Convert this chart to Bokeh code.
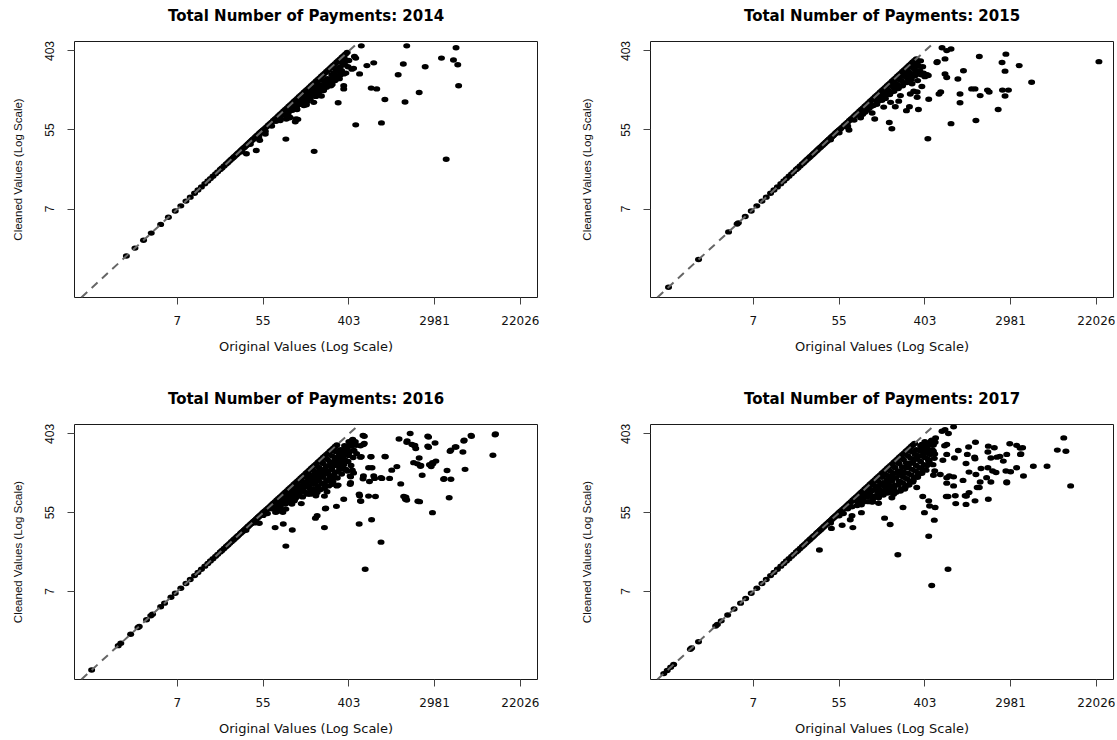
import math
from bokeh.plotting import figure
from bokeh.layouts import row, column
from bokeh.models import Range1d, FixedTicker, Slope, LinearAxis
from bokeh.embed import file_html
from bokeh.resources import INLINE

# ---------------- data (natural-log values, as plotted) ----------------
x_tick_pos = [2, 4, 6, 8, 10]
x_tick_labels = ["7", "55", "403", "2981", "22026"]
y_tick_pos = [2, 4, 6]
y_tick_labels = ["7", "55", "403"]

# points where cleaned == original (log scale), shared dense run
band_log = [1.95, 2.08, 2.2, 2.3, 2.4, 2.48, 2.56, 2.64, 2.71, 2.77, 2.83, 2.89, 2.94, 3.0,
            3.04, 3.09, 3.14, 3.18, 3.22, 3.26, 3.3, 3.33, 3.37, 3.4, 3.43, 3.47, 3.5, 3.53,
            3.56, 3.58, 3.61, 3.64, 3.66, 3.69, 3.71, 3.74, 3.76, 3.78, 3.81, 3.83, 3.85, 3.87,
            3.89, 3.91, 3.93, 3.95, 3.97, 3.99, 4.01, 4.04, 4.08, 4.12, 4.16, 4.2, 4.24, 4.28,
            4.32, 4.36, 4.4, 4.44, 4.48, 4.52, 4.56, 4.6, 4.64, 4.68, 4.72, 4.76, 4.8, 4.84,
            4.88, 4.92, 4.96, 5.0, 5.04, 5.08, 5.12, 5.16, 5.2, 5.24, 5.28, 5.32, 5.36, 5.4,
            5.44, 5.48, 5.52, 5.56, 5.6, 5.64, 5.68, 5.72, 5.76, 5.8, 5.84, 5.88, 5.92, 5.96]

diag_low_2014 = [0.81, 1.01, 1.21, 1.39, 1.61, 1.79]
diag_low_2015 = [0.02, 0.72, 1.42, 1.62, 1.65, 1.81]
diag_low_2016 = [0.0, 0.62, 0.68, 0.91, 1.08, 1.11, 1.28, 1.38, 1.42, 1.61, 1.7, 1.85]
diag_low_2017 = [-0.09, -0.01, 0.07, 0.14, 0.53, 0.56, 0.72, 1.12, 1.16, 1.25, 1.4, 1.55, 1.7, 1.82]
band_top = {"2014": 5.96, "2015": 5.8, "2016": 5.72, "2017": 5.76}

# (log original, log cleaned) for points where cleaning lowered the value
pairs_2014 = [
    (3.5, 3.45), (3.7, 3.64), (3.9, 3.83), (4.05, 3.97), (4.2, 4.1), (4.3, 4.22), (4.4, 4.3),
    (4.5, 4.38), (4.55, 4.45), (4.6, 4.47), (4.65, 4.55), (4.7, 4.52), (4.75, 4.62), (4.8, 4.65),
    (4.85, 4.72), (4.9, 4.7), (4.9, 4.78), (4.95, 4.8), (5.0, 4.82), (5.0, 4.88), (5.05, 4.9),
    (5.1, 4.85), (5.1, 4.96), (5.15, 5.0), (5.2, 4.95), (5.2, 5.07), (5.25, 5.08), (5.3, 5.0),
    (5.3, 5.15), (5.35, 5.12), (5.4, 5.05), (5.4, 5.25), (5.45, 5.2), (5.5, 5.15), (5.5, 5.3),
    (5.55, 5.25), (5.6, 5.4), (5.6, 5.2), (5.65, 5.45), (5.7, 5.35), (5.7, 5.55), (5.75, 5.5),
    (5.8, 5.6), (5.8, 5.4), (5.85, 5.7), (5.9, 5.65), (5.9, 5.8), (5.95, 5.75),
    (5.88, 5.67), (6.0, 5.76), (5.72, 5.5), (5.61, 5.29), (5.49, 5.17), (5.41, 5.0), (5.29, 4.91),
    (5.1, 4.79), (4.95, 4.62), (4.63, 4.32),
    (4.58, 4.4), (4.68, 4.5), (4.78, 4.58), (4.88, 4.65), (4.98, 4.75), (5.08, 4.8), (5.18, 4.9),
    (5.28, 4.95), (5.38, 5.0), (5.48, 5.08), (5.58, 5.12), (5.68, 5.25), (5.78, 5.3), (5.88, 5.42),
    (5.98, 5.6), (5.03, 4.72), (5.23, 4.85), (5.43, 5.1), (5.63, 5.3), (5.83, 5.5),
    (6.29, 6.13), (7.35, 6.13), (8.5, 6.08), (8.16, 5.82), (8.44, 5.77), (8.54, 5.65), (8.56, 5.12),
    (8.27, 3.26), (7.78, 5.6), (7.64, 4.95), (7.27, 5.67), (7.15, 5.4), (7.31, 4.71), (6.84, 4.77),
    (6.76, 4.18), (6.58, 5.7), (6.42, 5.63), (6.52, 5.06), (6.65, 5.04), (6.25, 5.42), (6.16, 4.13),
    (5.75, 4.69), (5.88, 5.12), (5.88, 5.04), (5.93, 5.44), (6.13, 5.86), (6.16, 5.82), (6.11, 5.56),
    (6.07, 5.54), (5.78, 5.38), (5.61, 5.15), (5.36, 4.86), (5.19, 3.46), (5.18, 4.7), (5.01, 4.64),
    (4.79, 4.52), (4.77, 4.28), (4.53, 3.77), (4.54, 4.28), (4.62, 4.31), (4.05, 3.9), (3.92, 3.74),
    (3.84, 3.48), (3.61, 3.4), (4.4, 4.24), (4.75, 4.21), (4.81, 4.27),
]

pairs_2015 = [
    (3.8, 3.75), (4.0, 3.93), (4.2, 4.1), (4.35, 4.25), (4.5, 4.38), (4.6, 4.45), (4.7, 4.55),
    (4.8, 4.62), (4.85, 4.75), (4.9, 4.72), (5.0, 4.85), (5.0, 4.75), (5.05, 4.95), (5.1, 4.9),
    (5.15, 5.0), (5.2, 4.95), (5.25, 5.1), (5.3, 5.05), (5.3, 5.2), (5.35, 5.15), (5.4, 5.3),
    (5.4, 5.1), (5.45, 5.25), (5.5, 5.4), (5.5, 5.2), (5.55, 5.35), (5.6, 5.5), (5.6, 5.3),
    (5.65, 5.45), (5.7, 5.6), (5.7, 5.35), (5.75, 5.55), (5.8, 5.7), (5.8, 5.5), (5.85, 5.62),
    (5.9, 5.75), (5.95, 5.6),
    (4.55, 4.4), (4.65, 4.5), (4.75, 4.6), (4.88, 4.65), (4.98, 4.8), (5.08, 4.8), (5.18, 4.9),
    (5.28, 4.98), (5.38, 5.05), (5.48, 5.12), (5.58, 5.2), (5.68, 5.28), (5.78, 5.38), (5.88, 5.5),
    (5.92, 5.4), (5.62, 5.42), (5.42, 5.35), (5.22, 5.15),
    (6.4, 6.08), (6.51, 6.01), (6.61, 6.05), (6.28, 5.71), (6.47, 5.8), (7.27, 5.86), (7.89, 5.92),
    (7.8, 5.71), (8.2, 5.63), (7.87, 5.49), (8.49, 5.21), (6.9, 5.5), (6.77, 5.29), (6.51, 5.33),
    (6.05, 5.4), (5.97, 5.44), (6.0, 5.35), (5.93, 5.1), (5.66, 4.91), (5.7, 5.17), (5.83, 5.25),
    (5.58, 5.34), (6.33, 4.91), (6.37, 4.96), (6.82, 4.91), (7.09, 5.04), (7.17, 5.04), (7.29, 4.87),
    (7.46, 5.01), (7.5, 4.96), (7.81, 5.01), (7.95, 5.01), (7.87, 4.86), (7.71, 4.52), (7.19, 4.24),
    (6.61, 4.16), (6.82, 4.69), (6.09, 4.78), (5.85, 4.52), (5.64, 4.59), (5.57, 4.49), (6.07, 3.78),
    (5.23, 4.03), (5.17, 4.19), (5.39, 4.73), (5.04, 4.58), (4.83, 4.28), (4.77, 4.43), (4.5, 4.31),
    (4.23, 4.0), (4.2, 4.07), (5.2, 4.7), (5.31, 4.59), (5.43, 4.87), (5.82, 4.83), (5.74, 4.98),
    (5.82, 4.96), (6.47, 5.42), (10.06, 5.73), (5.72, 5.71), (5.82, 5.67), (5.8, 5.45), (6.01, 5.4),
    (6.08, 5.38), (6.29, 5.73),
]

pairs_2016 = [
    (3.6, 3.55), (3.8, 3.74), (4.0, 3.93), (4.1, 3.98), (4.2, 4.1), (4.3, 4.15), (4.35, 4.25),
    (4.4, 4.28), (4.45, 4.3), (4.5, 4.4), (4.55, 4.35), (4.6, 4.5), (4.6, 4.4), (4.65, 4.45),
    (4.7, 4.6), (4.7, 4.45), (4.75, 4.55), (4.8, 4.7), (4.8, 4.5), (4.85, 4.6), (4.9, 4.8),
    (4.9, 4.55), (4.95, 4.7), (5.0, 4.9), (5.0, 4.65), (5.05, 4.8), (5.1, 4.95), (5.1, 4.6),
    (5.15, 4.85), (5.2, 5.05), (5.2, 4.75), (5.25, 4.9), (5.3, 5.15), (5.3, 4.8), (5.35, 5.0),
    (5.4, 5.25), (5.4, 4.9), (5.45, 5.1), (5.45, 4.7), (5.5, 5.35), (5.5, 5.0), (5.55, 5.2),
    (5.55, 4.85), (5.6, 5.45), (5.6, 5.1), (5.65, 5.3), (5.65, 4.95), (5.7, 5.55), (5.7, 5.2),
    (5.75, 5.4), (5.75, 5.05), (5.8, 5.6), (5.8, 5.3), (5.85, 5.5), (5.9, 5.7), (5.9, 5.35),
    (5.95, 5.6), (6.0, 5.8), (6.0, 5.45),
    (4.42, 4.2), (4.48, 4.33), (4.52, 4.22), (4.58, 4.3), (4.62, 4.38), (4.68, 4.3), (4.72, 4.52),
    (4.78, 4.4), (4.82, 4.6), (4.84, 4.45), (4.88, 4.68), (4.92, 4.4), (4.93, 4.62), (4.97, 4.52),
    (5.02, 4.78), (5.03, 4.5), (5.07, 4.68), (5.12, 4.85), (5.13, 4.52), (5.17, 4.72), (5.18, 4.95),
    (5.22, 4.6), (5.23, 4.82), (5.27, 5.02), (5.28, 4.68), (5.32, 4.9), (5.33, 4.58), (5.37, 5.08),
    (5.38, 4.75), (5.42, 4.98), (5.43, 4.62), (5.47, 5.18), (5.48, 4.82), (5.52, 5.05), (5.53, 4.68),
    (5.57, 5.28), (5.58, 4.92), (5.62, 5.18), (5.63, 4.78), (5.67, 5.4), (5.68, 5.02), (5.72, 5.3),
    (5.73, 4.88), (5.77, 5.5), (5.78, 5.15), (5.82, 5.4), (5.83, 4.98), (5.87, 5.6), (5.88, 5.22),
    (5.92, 5.48), (5.93, 5.1), (5.97, 5.68), (5.98, 5.3), (6.02, 5.55), (6.05, 5.2), (6.07, 5.7),
    (6.1, 5.4), (6.12, 5.58), (6.15, 5.8), (6.18, 5.5),
    (6.09, 5.86), (6.09, 5.81), (6.33, 5.96), (6.34, 5.73), (6.27, 5.7), (6.03, 5.69), (5.96, 5.6),
    (6.29, 5.42), (6.52, 5.42), (6.84, 5.43), (6.46, 5.14), (6.33, 4.86), (6.34, 4.93), (6.58, 4.93),
    (6.75, 4.89), (6.95, 4.87), (6.48, 4.79), (7.0, 5.08), (7.12, 5.17), (7.21, 4.73), (7.17, 5.87),
    (7.43, 6.01), (7.35, 5.79), (7.47, 5.73), (7.53, 5.7), (7.84, 5.94), (8.01, 5.77), (7.84, 5.69),
    (7.64, 5.39), (7.51, 5.27), (7.6, 5.24), (7.68, 5.2), (7.88, 5.22), (7.95, 5.27), (8.03, 5.31),
    (7.71, 4.95), (8.29, 5.07), (8.22, 4.86), (8.38, 4.85), (8.34, 4.38), (7.95, 4.0), (7.61, 4.29),
    (7.32, 4.34), (7.28, 4.41), (8.38, 5.59), (8.48, 5.67), (8.66, 5.54), (8.69, 5.84), (8.85, 5.96),
    (8.71, 5.1), (9.41, 5.98), (9.42, 6.0), (9.36, 5.46), (6.75, 3.25), (6.38, 2.56), (6.53, 3.82),
    (6.24, 3.71), (6.27, 4.3), (6.24, 4.47), (6.46, 4.42), (6.62, 4.41), (6.04, 4.76), (5.88, 4.34),
    (5.71, 4.16), (5.43, 3.62), (5.26, 3.92), (5.22, 3.86), (5.45, 4.1), (5.43, 4.42), (5.49, 4.53),
    (5.72, 4.68), (5.61, 4.72), (4.89, 4.23), (4.75, 4.36), (4.68, 3.56), (4.53, 3.15), (4.47, 3.71),
    (4.28, 3.62), (4.32, 4.02), (4.42, 4.09), (3.91, 3.73), (4.63, 4.26), (5.1, 4.47), (5.26, 4.51),
    (5.41, 4.72), (5.88, 5.1), (5.96, 5.06), (6.11, 5.01), (6.03, 4.93), (5.89, 5.27), (5.8, 5.22),
    (5.64, 4.89), (6.6, 4.87), (6.54, 5.14), (6.51, 5.42), (6.77, 4.87), (6.85, 5.42), (7.33, 4.39),
    (7.35, 4.32), (7.65, 4.28), (7.67, 5.18), (7.36, 5.82), (7.54, 5.71), (7.56, 5.63), (7.86, 5.92),
    (7.86, 5.66), (7.92, 5.17), (7.96, 5.24), (8.36, 5.56), (8.5, 5.67), (8.68, 5.82), (8.86, 5.94),
    (8.21, 4.85), (6.25, 4.43), (6.28, 4.29), (6.08, 5.84), (6.17, 5.71), (6.36, 5.94), (6.36, 5.76),
    (6.27, 5.41), (6.08, 5.08), (6.04, 4.91), (6.03, 4.72), (5.75, 4.7), (5.58, 4.8), (5.56, 4.93),
    (5.43, 5.1), (5.46, 4.11), (5.04, 4.47), (5.13, 4.53), (5.23, 4.43), (4.94, 4.71), (4.46, 4.01),
    (4.53, 4.09), (4.27, 4.09), (4.29, 4.01), (4.67, 4.22), (4.73, 4.3),
]

pairs_2017 = [
    (3.8, 3.74), (4.0, 3.92), (4.1, 3.98), (4.2, 4.1), (4.3, 4.15), (4.4, 4.3), (4.45, 4.25),
    (4.5, 4.4), (4.55, 4.35), (4.6, 4.5), (4.65, 4.4), (4.7, 4.6), (4.7, 4.45), (4.75, 4.55),
    (4.8, 4.7), (4.8, 4.4), (4.85, 4.6), (4.9, 4.8), (4.9, 4.5), (4.95, 4.7), (5.0, 4.9),
    (5.0, 4.55), (5.05, 4.75), (5.1, 4.95), (5.1, 4.6), (5.15, 4.8), (5.2, 5.05), (5.2, 4.65),
    (5.25, 4.9), (5.3, 5.15), (5.3, 4.7), (5.35, 5.0), (5.4, 5.25), (5.4, 4.8), (5.45, 5.05),
    (5.45, 4.6), (5.5, 5.35), (5.5, 4.9), (5.55, 5.15), (5.55, 4.7), (5.6, 5.45), (5.6, 5.0),
    (5.65, 5.25), (5.65, 4.8), (5.7, 5.55), (5.7, 5.1), (5.75, 5.35), (5.75, 4.9), (5.8, 5.6),
    (5.8, 5.2), (5.85, 5.45), (5.85, 5.0), (5.9, 5.7), (5.9, 5.3), (5.95, 5.55), (5.95, 5.1),
    (6.0, 5.8), (6.0, 5.4), (6.05, 5.6), (6.05, 5.2), (6.1, 5.75), (6.1, 5.3),
    (4.42, 4.18), (4.48, 4.32), (4.52, 4.2), (4.58, 4.28), (4.62, 4.4), (4.68, 4.28), (4.72, 4.5),
    (4.78, 4.35), (4.82, 4.58), (4.84, 4.42), (4.88, 4.66), (4.92, 4.38), (4.93, 4.6), (4.97, 4.48),
    (5.02, 4.76), (5.03, 4.45), (5.07, 4.66), (5.12, 4.84), (5.13, 4.5), (5.17, 4.7), (5.18, 4.92),
    (5.22, 4.55), (5.23, 4.8), (5.27, 5.0), (5.28, 4.62), (5.32, 4.88), (5.33, 4.52), (5.37, 5.06),
    (5.38, 4.7), (5.42, 4.95), (5.43, 4.55), (5.47, 5.16), (5.48, 4.76), (5.52, 5.02), (5.53, 4.6),
    (5.57, 5.26), (5.58, 4.86), (5.62, 5.14), (5.63, 4.7), (5.67, 5.38), (5.68, 4.96), (5.72, 5.26),
    (5.73, 4.82), (5.77, 5.48), (5.78, 5.06), (5.82, 5.36), (5.83, 4.9), (5.87, 5.58), (5.88, 5.14),
    (5.92, 5.44), (5.93, 5.0), (5.97, 5.66), (5.98, 5.22), (6.02, 5.52), (6.03, 5.08), (6.07, 5.7),
    (6.08, 5.35), (6.12, 5.48), (6.15, 5.82), (6.17, 5.6), (6.2, 5.72), (6.22, 5.38), (6.25, 5.9),
    (6.4, 6.07), (6.47, 6.11), (6.55, 6.01), (6.67, 6.18), (6.16, 5.84), (6.05, 5.75), (5.93, 5.73),
    (6.24, 5.79), (6.46, 5.7), (6.51, 5.73), (6.2, 5.56), (6.05, 5.56), (6.23, 5.49), (6.51, 5.48),
    (6.69, 5.39), (6.78, 5.58), (6.42, 5.33), (6.19, 5.22), (6.09, 5.31), (6.36, 4.97), (6.2, 4.95),
    (6.23, 5.06), (6.51, 4.89), (6.57, 4.93), (6.67, 4.91), (6.51, 4.75), (6.67, 4.68), (6.54, 4.41),
    (6.89, 4.82), (7.03, 5.03), (6.96, 5.25), (6.99, 5.48), (7.16, 5.41), (7.17, 5.37), (7.02, 5.67),
    (7.18, 5.79), (7.48, 5.69), (7.62, 5.65), (7.47, 5.54), (7.54, 5.39), (7.68, 5.41), (7.75, 5.43),
    (7.91, 5.48), (7.83, 5.31), (7.98, 5.75), (8.14, 5.71), (8.28, 5.65), (8.23, 5.48), (8.14, 5.14),
    (8.3, 4.93), (8.53, 5.18), (8.85, 5.18), (9.09, 5.59), (9.29, 5.56), (9.24, 5.9), (9.4, 4.68),
    (7.47, 5.14), (7.58, 5.06), (7.66, 5.02), (7.31, 5.12), (7.19, 4.97), (7.44, 4.89), (7.54, 4.78),
    (7.48, 4.34), (7.27, 4.64), (7.29, 4.78), (7.89, 5.06), (7.91, 4.78), (8.0, 5.04), (7.17, 4.3),
    (6.96, 4.21), (7.03, 4.51), (6.97, 4.42), (6.72, 4.23), (6.5, 4.41), (5.95, 4.41), (6.09, 4.3),
    (6.11, 4.17), (6.24, 4.13), (5.99, 4.0), (6.22, 3.81), (6.09, 3.4), (6.54, 2.56), (6.16, 2.15),
    (5.37, 2.93), (5.19, 3.7), (5.06, 3.86), (5.49, 4.13), (5.23, 4.38), (5.27, 4.47), (4.77, 4.27),
    (4.92, 4.24), (4.52, 4.0), (4.32, 3.62), (4.07, 3.68), (3.82, 3.6), (4.26, 3.82), (4.3, 3.92),
    (3.54, 3.05), (5.54, 4.64), (5.81, 4.64), (5.72, 4.78), (5.85, 4.97), (8.22, 5.64), (8.24, 5.49),
    (7.91, 4.76), (6.71, 4.43), (6.94, 4.43), (7.22, 4.64), (4.78, 4.28),
]

titles = ["Total Number of Payments: 2014", "Total Number of Payments: 2015",
          "Total Number of Payments: 2016", "Total Number of Payments: 2017"]
x_label = "Original Values (Log Scale)"
y_label = "Cleaned Values (Log Scale)"


def panel(year, title, diag_low, pairs, width, height, bl, br, bt, bb, ylab_standoff):
    p = figure(width=width, height=height,
               x_range=Range1d(-0.4, 10.4), y_range=Range1d(-0.24, 6.24),
               output_backend="svg", toolbar_location=None,
               min_border_left=bl, min_border_right=br,
               min_border_top=bt, min_border_bottom=bb)
    p.title.text = title
    p.title.align = "center"
    p.title.text_font = "DejaVu Sans"
    p.title.text_font_size = "15px"
    p.title.text_font_style = "bold"
    p.title.text_color = "#000000"
    p.title.standoff = 0

    p.xgrid.visible = False
    p.ygrid.visible = False
    p.outline_line_color = "#1a1a1a"
    p.outline_line_width = 1
    p.background_fill_color = "white"
    p.border_fill_color = "white"

    xa = p.below[0]
    ya = p.left[0]
    xa.ticker = FixedTicker(ticks=x_tick_pos)
    xa.major_label_overrides = dict(zip(x_tick_pos, x_tick_labels))
    ya.ticker = FixedTicker(ticks=y_tick_pos)
    ya.major_label_overrides = dict(zip(y_tick_pos, y_tick_labels))
    for ax in (xa, ya):
        ax.axis_line_color = None
        ax.major_tick_line_color = "#444444"
        ax.major_tick_out = 7
        ax.major_tick_in = 0
        ax.minor_tick_line_color = None
        ax.major_label_text_color = "#111111"
        ax.axis_label_text_color = "#111111"
        ax.axis_label_text_font_style = "normal"

    xa.major_label_text_font = "DejaVu Sans"
    xa.major_label_text_font_size = "12px"
    xa.major_label_standoff = 11
    xa.axis_label = x_label
    xa.axis_label_text_font = "DejaVu Sans"
    xa.axis_label_text_font_size = "13px"
    xa.axis_label_standoff = 11

    ya.major_label_orientation = "parallel"
    ya.major_label_text_font = "Liberation Sans"
    ya.major_label_text_font_size = "12px"
    ya.major_label_standoff = 13
    ya.axis_label = y_label
    ya.axis_label_text_font = "Liberation Sans"
    ya.axis_label_text_font_size = "11.5px"
    ya.axis_label_standoff = ylab_standoff

    # invisible spacer band between the frame and the title
    gap = LinearAxis(ticker=FixedTicker(ticks=[5]), axis_line_color=None,
                     major_tick_line_color=None, minor_tick_line_color=None,
                     major_tick_out=17, major_tick_in=0, major_label_standoff=0,
                     major_label_overrides={5: ""}, major_label_text_font_size="0px",
                     major_label_text_alpha=0)
    p.add_layout(gap, "above")

    diag = list(diag_low) + [v for v in band_log if v <= band_top[year]]
    xs = [a for a, b in pairs]
    ys = [b for a, b in pairs]
    p.ellipse(x=diag, y=diag, width=7, height=5.4, width_units="screen", height_units="screen",
              fill_color="black", line_color=None)
    p.ellipse(x=xs, y=ys, width=7, height=5.4, width_units="screen", height_units="screen",
              fill_color="black", line_color=None)
    p.add_layout(Slope(gradient=1, y_intercept=0, line_color="#666666",
                       line_width=2, line_dash="8 6"))
    return p


p1 = panel("2014", titles[0], diag_low_2014, pairs_2014, 558, 370, 74, 21, 41, 73, 19)
p2 = panel("2015", titles[1], diag_low_2015, pairs_2015, 557, 370, 92, 2, 41, 73, 26)
p3 = panel("2016", titles[2], diag_low_2016, pairs_2016, 558, 368, 74, 21, 54, 58, 19)
p4 = panel("2017", titles[3], diag_low_2017, pairs_2017, 557, 368, 92, 2, 54, 58, 26)

layout = column(row(p1, p2, spacing=0), row(p3, p4, spacing=0), spacing=0)

open("out.html", "w").write(file_html(layout, INLINE))
